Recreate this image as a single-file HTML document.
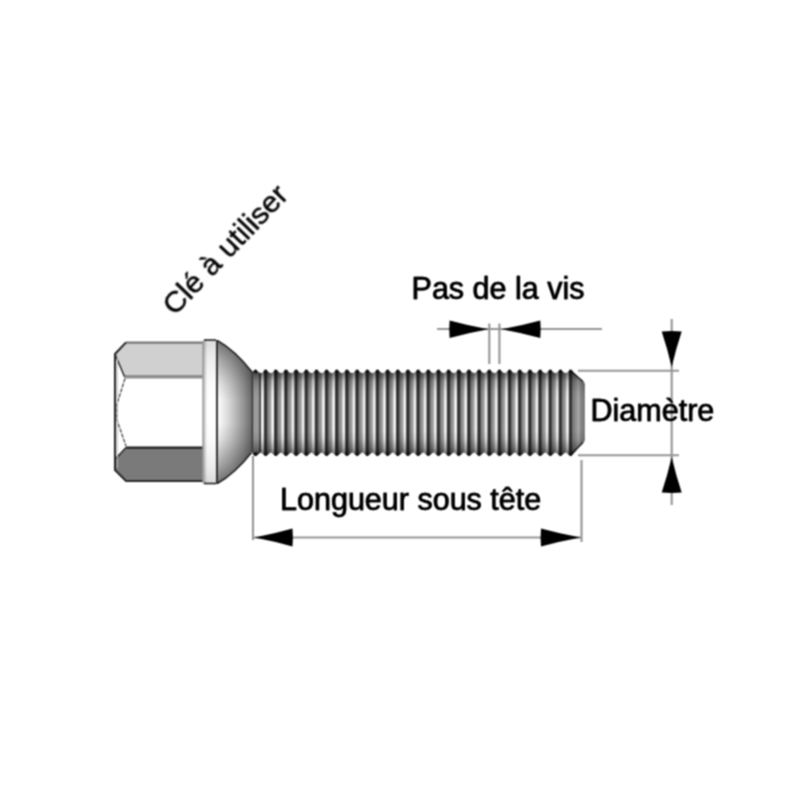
<!DOCTYPE html>
<html><head><meta charset="utf-8"><style>
html,body{margin:0;padding:0;background:#fff;}
svg{display:block;will-change:transform;}
text{font-family:"Liberation Sans",sans-serif;font-size:30.5px;fill:#000;stroke:#000;stroke-width:0.3px;}
</style></head><body>
<svg width="800" height="800" viewBox="0 0 800 800">
<defs>
  <filter id="gb" x="0" y="0" width="800" height="800" filterUnits="userSpaceOnUse" color-interpolation-filters="sRGB"><feConvolveMatrix order="3" kernelMatrix="1 2 1 2 4 2 1 2 1" divisor="16" edgeMode="duplicate" preserveAlpha="false"/></filter>
  <filter id="lb" x="0" y="0" width="800" height="800" filterUnits="userSpaceOnUse" color-interpolation-filters="sRGB"><feConvolveMatrix order="3" kernelMatrix="1 2 1 2 4 2 1 2 1" divisor="16" edgeMode="none"/></filter>
  <linearGradient id="vshade" gradientUnits="userSpaceOnUse" x1="0" y1="370" x2="0" y2="456">
    <stop offset="0" stop-color="#000" stop-opacity="0.6"/>
    <stop offset="0.06" stop-color="#000" stop-opacity="0.45"/>
    <stop offset="0.13" stop-color="#000" stop-opacity="0.2"/>
    <stop offset="0.25" stop-color="#000" stop-opacity="0.05"/>
    <stop offset="0.35" stop-color="#000" stop-opacity="0"/>
    <stop offset="0.7" stop-color="#000" stop-opacity="0"/>
    <stop offset="0.8" stop-color="#000" stop-opacity="0.08"/>
    <stop offset="0.9" stop-color="#000" stop-opacity="0.3"/>
    <stop offset="1" stop-color="#000" stop-opacity="0.6"/>
  </linearGradient>
  <linearGradient id="vshadeH" gradientUnits="userSpaceOnUse" x1="0" y1="339" x2="0" y2="485">
    <stop offset="0" stop-color="#000" stop-opacity="0.5"/>
    <stop offset="0.12" stop-color="#000" stop-opacity="0.25"/>
    <stop offset="0.3" stop-color="#000" stop-opacity="0.05"/>
    <stop offset="0.45" stop-color="#000" stop-opacity="0"/>
    <stop offset="0.55" stop-color="#000" stop-opacity="0"/>
    <stop offset="0.7" stop-color="#000" stop-opacity="0.05"/>
    <stop offset="0.88" stop-color="#000" stop-opacity="0.25"/>
    <stop offset="1" stop-color="#000" stop-opacity="0.5"/>
  </linearGradient>
  <linearGradient id="stripe" x1="0" y1="0" x2="1" y2="0">
    <stop offset="0" stop-color="#2c2c2c"/>
    <stop offset="0.06" stop-color="#2c2c2c"/>
    <stop offset="0.13" stop-color="#5a5a5a"/>
    <stop offset="0.24" stop-color="#858585"/>
    <stop offset="0.42" stop-color="#9c9c9c"/>
    <stop offset="0.54" stop-color="#ababab"/>
    <stop offset="0.61" stop-color="#f0f0f0"/>
    <stop offset="0.64" stop-color="#ffffff"/>
    <stop offset="0.76" stop-color="#ffffff"/>
    <stop offset="0.83" stop-color="#707070"/>
    <stop offset="0.9" stop-color="#2c2c2c"/>
    <stop offset="1" stop-color="#2c2c2c"/>
  </linearGradient>
  <pattern id="thread" patternUnits="userSpaceOnUse" x="255.5" y="0" width="10.165" height="800">
    <rect x="0" y="0" width="10.165" height="800" fill="url(#stripe)"/>
  </pattern>
  <linearGradient id="coneH" gradientUnits="userSpaceOnUse" x1="217" y1="0" x2="254" y2="0">
    <stop offset="0" stop-color="#ffffff"/>
    <stop offset="0.1" stop-color="#f4f4f4"/>
    <stop offset="0.35" stop-color="#d2d2d2"/>
    <stop offset="0.7" stop-color="#989898"/>
    <stop offset="1" stop-color="#5e5e5e"/>
  </linearGradient>
  <linearGradient id="coneV" gradientUnits="userSpaceOnUse" x1="0" y1="340" x2="0" y2="484">
    <stop offset="0" stop-color="#000" stop-opacity="0.55"/>
    <stop offset="0.14" stop-color="#000" stop-opacity="0.32"/>
    <stop offset="0.3" stop-color="#000" stop-opacity="0.1"/>
    <stop offset="0.42" stop-color="#000" stop-opacity="0"/>
    <stop offset="0.58" stop-color="#000" stop-opacity="0"/>
    <stop offset="0.7" stop-color="#000" stop-opacity="0.1"/>
    <stop offset="0.86" stop-color="#000" stop-opacity="0.32"/>
    <stop offset="1" stop-color="#000" stop-opacity="0.55"/>
  </linearGradient>
  <linearGradient id="flangeH" gradientUnits="userSpaceOnUse" x1="202" y1="0" x2="218" y2="0">
    <stop offset="0" stop-color="#8c8c8c"/>
    <stop offset="0.18" stop-color="#d4d4d4"/>
    <stop offset="0.32" stop-color="#fff"/>
    <stop offset="0.8" stop-color="#fff"/>
    <stop offset="1" stop-color="#d8d8d8"/>
  </linearGradient>
  <linearGradient id="endH" gradientUnits="userSpaceOnUse" x1="570" y1="0" x2="585" y2="0">
    <stop offset="0" stop-color="#444"/>
    <stop offset="0.087" stop-color="#2e2e2e"/>
    <stop offset="0.17" stop-color="#777"/>
    <stop offset="0.33" stop-color="#888"/>
    <stop offset="0.57" stop-color="#a8a8a8"/>
    <stop offset="0.73" stop-color="#858585"/>
    <stop offset="0.93" stop-color="#777"/>
    <stop offset="1" stop-color="#888"/>
  </linearGradient>
</defs>
<g filter="url(#gb)">

<!-- HEX HEAD -->
<path d="M126,342 L115,354 L115,470 L126,481 L203,481 L203,342 Z" fill="#fff"/>
<path d="M126,342 L203,342 L203,376.8 L124.5,376.8 L115,354 Z" fill="#d0d0d0"/>
<path d="M126,447.5 L203,447.5 L203,481 L126,481 L115,470 L115,458 Z" fill="#7a7a7a"/>
<path d="M126,342.6 L203,342.6" stroke="#777" stroke-width="2.4"/>
<path d="M126,342.4 L115,354 L115,470 L126,481 L203,481" fill="none" stroke="#2a2a2a" stroke-width="2.1"/>
<path d="M124.5,376.8 L203,376.8" stroke="#8e8e8e" stroke-width="3.4"/>
<path d="M126,447.7 L203,447.7" stroke="#1e1e1e" stroke-width="2.2"/>
<path d="M115,354 L124.5,376.8" stroke="#2a2a2a" stroke-width="1.5" fill="none"/>
<path d="M125,378.5 L117,404 L117,420 L126,446" stroke="#3a3a3a" stroke-width="1.2" fill="none" stroke-dasharray="4,1.2"/>
<path d="M126,447.5 L115.5,459" stroke="#2a2a2a" stroke-width="1.5" fill="none"/>
<path d="M117.3,356 L117.3,468" stroke="#bbb" stroke-width="1" fill="none"/>

<!-- FLANGE -->
<rect x="202.5" y="340" width="15" height="144" rx="2" fill="url(#flangeH)"/>
<rect x="202.5" y="340" width="15" height="144" rx="2" fill="url(#vshadeH)" opacity="0.3"/>
<path d="M204,340 L216,340" stroke="#222" stroke-width="1.6"/>
<path d="M204,483.5 L216,483.5" stroke="#222" stroke-width="1.6"/>

<!-- CONE -->
<path d="M217.3,340.5 Q234.4,349.9 252.5,372.5 L252.5,451.5 Q234.4,474.1 217.3,483.5 Z" fill="url(#coneH)"/>
<path d="M217.3,340.5 Q234.4,349.9 252.5,372.5 L252.5,451.5 Q234.4,474.1 217.3,483.5 Z" fill="url(#coneV)"/>
<path d="M217.3,340.5 Q234.4,349.9 252.5,372.5" fill="none" stroke="#222" stroke-width="1.5"/>
<path d="M217.3,483.5 Q234.4,474.1 252.5,451.5" fill="none" stroke="#222" stroke-width="1.5"/>

<path d="M217,340 L217,484" stroke="#262626" stroke-width="1.8"/>
<path d="M203,342 L203,482" stroke="#a0a0a0" stroke-width="1"/>
<!-- THREAD -->
<path d="M253.0,373.50 L253.30,371.70 Q255.50,368.90 257.70,371.70 L260.58,373.30 L263.47,371.70 Q265.67,368.90 267.87,371.70 L270.75,373.30 L273.63,371.70 Q275.83,368.90 278.03,371.70 L280.91,373.30 L283.80,371.70 Q286.00,368.90 288.19,371.70 L291.08,373.30 L293.96,371.70 Q296.16,368.90 298.36,371.70 L301.24,373.30 L304.12,371.70 Q306.32,368.90 308.52,371.70 L311.41,373.30 L314.29,371.70 Q316.49,368.90 318.69,371.70 L321.57,373.30 L324.45,371.70 Q326.65,368.90 328.85,371.70 L331.74,373.30 L334.62,371.70 Q336.82,368.90 339.02,371.70 L341.90,373.30 L344.79,371.70 Q346.99,368.90 349.19,371.70 L352.07,373.30 L354.95,371.70 Q357.15,368.90 359.35,371.70 L362.23,373.30 L365.12,371.70 Q367.31,368.90 369.51,371.70 L372.40,373.30 L375.28,371.70 Q377.48,368.90 379.68,371.70 L382.56,373.30 L385.44,371.70 Q387.64,368.90 389.84,371.70 L392.73,373.30 L395.61,371.70 Q397.81,368.90 400.01,371.70 L402.89,373.30 L405.78,371.70 Q407.98,368.90 410.18,371.70 L413.06,373.30 L415.94,371.70 Q418.14,368.90 420.34,371.70 L423.22,373.30 L426.10,371.70 Q428.30,368.90 430.50,371.70 L433.39,373.30 L436.27,371.70 Q438.47,368.90 440.67,371.70 L443.55,373.30 L446.44,371.70 Q448.63,368.90 450.83,371.70 L453.72,373.30 L456.60,371.70 Q458.80,368.90 461.00,371.70 L463.88,373.30 L466.76,371.70 Q468.96,368.90 471.16,371.70 L474.05,373.30 L476.93,371.70 Q479.13,368.90 481.33,371.70 L484.21,373.30 L487.09,371.70 Q489.29,368.90 491.49,371.70 L494.38,373.30 L497.26,371.70 Q499.46,368.90 501.66,371.70 L504.54,373.30 L507.43,371.70 Q509.62,368.90 511.82,371.70 L514.71,373.30 L517.59,371.70 Q519.79,368.90 521.99,371.70 L524.87,373.30 L527.75,371.70 Q529.95,368.90 532.15,371.70 L535.04,373.30 L537.92,371.70 Q540.12,368.90 542.32,371.70 L545.20,373.30 L548.08,371.70 Q550.28,368.90 552.49,371.70 L555.37,373.30 L558.25,371.70 Q560.45,368.90 562.65,371.70 L565.53,373.30 L568.41,371.70 Q570.62,368.90 572.82,371.70 L583.40,381.8 L584.8,383.5 L584.8,440.5 L583.40,442.2 L571.82,455.40 Q570.62,456.60 569.41,455.40 L565.53,452.20 L561.65,455.40 Q560.45,456.60 559.25,455.40 L555.37,452.20 L551.49,455.40 Q550.28,456.60 549.08,455.40 L545.20,452.20 L541.32,455.40 Q540.12,456.60 538.92,455.40 L535.04,452.20 L531.16,455.40 Q529.95,456.60 528.75,455.40 L524.87,452.20 L520.99,455.40 Q519.79,456.60 518.59,455.40 L514.71,452.20 L510.82,455.40 Q509.62,456.60 508.43,455.40 L504.54,452.20 L500.66,455.40 Q499.46,456.60 498.26,455.40 L494.38,452.20 L490.49,455.40 Q489.29,456.60 488.09,455.40 L484.21,452.20 L480.33,455.40 Q479.13,456.60 477.93,455.40 L474.05,452.20 L470.16,455.40 Q468.96,456.60 467.76,455.40 L463.88,452.20 L460.00,455.40 Q458.80,456.60 457.60,455.40 L453.72,452.20 L449.83,455.40 Q448.63,456.60 447.44,455.40 L443.55,452.20 L439.67,455.40 Q438.47,456.60 437.27,455.40 L433.39,452.20 L429.50,455.40 Q428.30,456.60 427.10,455.40 L423.22,452.20 L419.34,455.40 Q418.14,456.60 416.94,455.40 L413.06,452.20 L409.17,455.40 Q407.98,456.60 406.78,455.40 L402.89,452.20 L399.01,455.40 Q397.81,456.60 396.61,455.40 L392.73,452.20 L388.84,455.40 Q387.64,456.60 386.44,455.40 L382.56,452.20 L378.68,455.40 Q377.48,456.60 376.28,455.40 L372.40,452.20 L368.51,455.40 Q367.31,456.60 366.12,455.40 L362.23,452.20 L358.35,455.40 Q357.15,456.60 355.95,455.40 L352.07,452.20 L348.18,455.40 Q346.99,456.60 345.79,455.40 L341.90,452.20 L338.02,455.40 Q336.82,456.60 335.62,455.40 L331.74,452.20 L327.85,455.40 Q326.65,456.60 325.45,455.40 L321.57,452.20 L317.69,455.40 Q316.49,456.60 315.29,455.40 L311.41,452.20 L307.52,455.40 Q306.32,456.60 305.12,455.40 L301.24,452.20 L297.36,455.40 Q296.16,456.60 294.96,455.40 L291.08,452.20 L287.19,455.40 Q286.00,456.60 284.80,455.40 L280.91,452.20 L277.03,455.40 Q275.83,456.60 274.63,455.40 L270.75,452.20 L266.86,455.40 Q265.67,456.60 264.47,455.40 L260.58,452.20 L256.70,455.40 Q255.50,456.60 254.30,455.40 L250.42,452.20 L253.0,452.2 Z" fill="url(#thread)"/>
<path d="M570.6,368 L585,368 L585,458 L570.6,458 Z" fill="url(#endH)" clip-path="url(#thrclip)"/>
<path d="M570.6,370.8 L583.2,381.8" stroke="#222" stroke-width="1.3" fill="none"/>
<path d="M570.6,455 L583.2,442.2" stroke="#222" stroke-width="1.3" fill="none"/>
<clipPath id="thrclip"><path d="M253.0,373.50 L253.30,371.70 Q255.50,368.90 257.70,371.70 L260.58,373.30 L263.47,371.70 Q265.67,368.90 267.87,371.70 L270.75,373.30 L273.63,371.70 Q275.83,368.90 278.03,371.70 L280.91,373.30 L283.80,371.70 Q286.00,368.90 288.19,371.70 L291.08,373.30 L293.96,371.70 Q296.16,368.90 298.36,371.70 L301.24,373.30 L304.12,371.70 Q306.32,368.90 308.52,371.70 L311.41,373.30 L314.29,371.70 Q316.49,368.90 318.69,371.70 L321.57,373.30 L324.45,371.70 Q326.65,368.90 328.85,371.70 L331.74,373.30 L334.62,371.70 Q336.82,368.90 339.02,371.70 L341.90,373.30 L344.79,371.70 Q346.99,368.90 349.19,371.70 L352.07,373.30 L354.95,371.70 Q357.15,368.90 359.35,371.70 L362.23,373.30 L365.12,371.70 Q367.31,368.90 369.51,371.70 L372.40,373.30 L375.28,371.70 Q377.48,368.90 379.68,371.70 L382.56,373.30 L385.44,371.70 Q387.64,368.90 389.84,371.70 L392.73,373.30 L395.61,371.70 Q397.81,368.90 400.01,371.70 L402.89,373.30 L405.78,371.70 Q407.98,368.90 410.18,371.70 L413.06,373.30 L415.94,371.70 Q418.14,368.90 420.34,371.70 L423.22,373.30 L426.10,371.70 Q428.30,368.90 430.50,371.70 L433.39,373.30 L436.27,371.70 Q438.47,368.90 440.67,371.70 L443.55,373.30 L446.44,371.70 Q448.63,368.90 450.83,371.70 L453.72,373.30 L456.60,371.70 Q458.80,368.90 461.00,371.70 L463.88,373.30 L466.76,371.70 Q468.96,368.90 471.16,371.70 L474.05,373.30 L476.93,371.70 Q479.13,368.90 481.33,371.70 L484.21,373.30 L487.09,371.70 Q489.29,368.90 491.49,371.70 L494.38,373.30 L497.26,371.70 Q499.46,368.90 501.66,371.70 L504.54,373.30 L507.43,371.70 Q509.62,368.90 511.82,371.70 L514.71,373.30 L517.59,371.70 Q519.79,368.90 521.99,371.70 L524.87,373.30 L527.75,371.70 Q529.95,368.90 532.15,371.70 L535.04,373.30 L537.92,371.70 Q540.12,368.90 542.32,371.70 L545.20,373.30 L548.08,371.70 Q550.28,368.90 552.49,371.70 L555.37,373.30 L558.25,371.70 Q560.45,368.90 562.65,371.70 L565.53,373.30 L568.41,371.70 Q570.62,368.90 572.82,371.70 L583.40,381.8 L584.8,383.5 L584.8,440.5 L583.40,442.2 L571.82,455.40 Q570.62,456.60 569.41,455.40 L565.53,452.20 L561.65,455.40 Q560.45,456.60 559.25,455.40 L555.37,452.20 L551.49,455.40 Q550.28,456.60 549.08,455.40 L545.20,452.20 L541.32,455.40 Q540.12,456.60 538.92,455.40 L535.04,452.20 L531.16,455.40 Q529.95,456.60 528.75,455.40 L524.87,452.20 L520.99,455.40 Q519.79,456.60 518.59,455.40 L514.71,452.20 L510.82,455.40 Q509.62,456.60 508.43,455.40 L504.54,452.20 L500.66,455.40 Q499.46,456.60 498.26,455.40 L494.38,452.20 L490.49,455.40 Q489.29,456.60 488.09,455.40 L484.21,452.20 L480.33,455.40 Q479.13,456.60 477.93,455.40 L474.05,452.20 L470.16,455.40 Q468.96,456.60 467.76,455.40 L463.88,452.20 L460.00,455.40 Q458.80,456.60 457.60,455.40 L453.72,452.20 L449.83,455.40 Q448.63,456.60 447.44,455.40 L443.55,452.20 L439.67,455.40 Q438.47,456.60 437.27,455.40 L433.39,452.20 L429.50,455.40 Q428.30,456.60 427.10,455.40 L423.22,452.20 L419.34,455.40 Q418.14,456.60 416.94,455.40 L413.06,452.20 L409.17,455.40 Q407.98,456.60 406.78,455.40 L402.89,452.20 L399.01,455.40 Q397.81,456.60 396.61,455.40 L392.73,452.20 L388.84,455.40 Q387.64,456.60 386.44,455.40 L382.56,452.20 L378.68,455.40 Q377.48,456.60 376.28,455.40 L372.40,452.20 L368.51,455.40 Q367.31,456.60 366.12,455.40 L362.23,452.20 L358.35,455.40 Q357.15,456.60 355.95,455.40 L352.07,452.20 L348.18,455.40 Q346.99,456.60 345.79,455.40 L341.90,452.20 L338.02,455.40 Q336.82,456.60 335.62,455.40 L331.74,452.20 L327.85,455.40 Q326.65,456.60 325.45,455.40 L321.57,452.20 L317.69,455.40 Q316.49,456.60 315.29,455.40 L311.41,452.20 L307.52,455.40 Q306.32,456.60 305.12,455.40 L301.24,452.20 L297.36,455.40 Q296.16,456.60 294.96,455.40 L291.08,452.20 L287.19,455.40 Q286.00,456.60 284.80,455.40 L280.91,452.20 L277.03,455.40 Q275.83,456.60 274.63,455.40 L270.75,452.20 L266.86,455.40 Q265.67,456.60 264.47,455.40 L260.58,452.20 L256.70,455.40 Q255.50,456.60 254.30,455.40 L250.42,452.20 L253.0,452.2 Z"/></clipPath>
<path d="M253.0,373.50 L253.30,371.70 Q255.50,368.90 257.70,371.70 L260.58,373.30 L263.47,371.70 Q265.67,368.90 267.87,371.70 L270.75,373.30 L273.63,371.70 Q275.83,368.90 278.03,371.70 L280.91,373.30 L283.80,371.70 Q286.00,368.90 288.19,371.70 L291.08,373.30 L293.96,371.70 Q296.16,368.90 298.36,371.70 L301.24,373.30 L304.12,371.70 Q306.32,368.90 308.52,371.70 L311.41,373.30 L314.29,371.70 Q316.49,368.90 318.69,371.70 L321.57,373.30 L324.45,371.70 Q326.65,368.90 328.85,371.70 L331.74,373.30 L334.62,371.70 Q336.82,368.90 339.02,371.70 L341.90,373.30 L344.79,371.70 Q346.99,368.90 349.19,371.70 L352.07,373.30 L354.95,371.70 Q357.15,368.90 359.35,371.70 L362.23,373.30 L365.12,371.70 Q367.31,368.90 369.51,371.70 L372.40,373.30 L375.28,371.70 Q377.48,368.90 379.68,371.70 L382.56,373.30 L385.44,371.70 Q387.64,368.90 389.84,371.70 L392.73,373.30 L395.61,371.70 Q397.81,368.90 400.01,371.70 L402.89,373.30 L405.78,371.70 Q407.98,368.90 410.18,371.70 L413.06,373.30 L415.94,371.70 Q418.14,368.90 420.34,371.70 L423.22,373.30 L426.10,371.70 Q428.30,368.90 430.50,371.70 L433.39,373.30 L436.27,371.70 Q438.47,368.90 440.67,371.70 L443.55,373.30 L446.44,371.70 Q448.63,368.90 450.83,371.70 L453.72,373.30 L456.60,371.70 Q458.80,368.90 461.00,371.70 L463.88,373.30 L466.76,371.70 Q468.96,368.90 471.16,371.70 L474.05,373.30 L476.93,371.70 Q479.13,368.90 481.33,371.70 L484.21,373.30 L487.09,371.70 Q489.29,368.90 491.49,371.70 L494.38,373.30 L497.26,371.70 Q499.46,368.90 501.66,371.70 L504.54,373.30 L507.43,371.70 Q509.62,368.90 511.82,371.70 L514.71,373.30 L517.59,371.70 Q519.79,368.90 521.99,371.70 L524.87,373.30 L527.75,371.70 Q529.95,368.90 532.15,371.70 L535.04,373.30 L537.92,371.70 Q540.12,368.90 542.32,371.70 L545.20,373.30 L548.08,371.70 Q550.28,368.90 552.49,371.70 L555.37,373.30 L558.25,371.70 Q560.45,368.90 562.65,371.70 L565.53,373.30 L568.41,371.70 Q570.62,368.90 572.82,371.70 L583.40,381.8 L584.8,383.5 L584.8,440.5 L583.40,442.2 L571.82,455.40 Q570.62,456.60 569.41,455.40 L565.53,452.20 L561.65,455.40 Q560.45,456.60 559.25,455.40 L555.37,452.20 L551.49,455.40 Q550.28,456.60 549.08,455.40 L545.20,452.20 L541.32,455.40 Q540.12,456.60 538.92,455.40 L535.04,452.20 L531.16,455.40 Q529.95,456.60 528.75,455.40 L524.87,452.20 L520.99,455.40 Q519.79,456.60 518.59,455.40 L514.71,452.20 L510.82,455.40 Q509.62,456.60 508.43,455.40 L504.54,452.20 L500.66,455.40 Q499.46,456.60 498.26,455.40 L494.38,452.20 L490.49,455.40 Q489.29,456.60 488.09,455.40 L484.21,452.20 L480.33,455.40 Q479.13,456.60 477.93,455.40 L474.05,452.20 L470.16,455.40 Q468.96,456.60 467.76,455.40 L463.88,452.20 L460.00,455.40 Q458.80,456.60 457.60,455.40 L453.72,452.20 L449.83,455.40 Q448.63,456.60 447.44,455.40 L443.55,452.20 L439.67,455.40 Q438.47,456.60 437.27,455.40 L433.39,452.20 L429.50,455.40 Q428.30,456.60 427.10,455.40 L423.22,452.20 L419.34,455.40 Q418.14,456.60 416.94,455.40 L413.06,452.20 L409.17,455.40 Q407.98,456.60 406.78,455.40 L402.89,452.20 L399.01,455.40 Q397.81,456.60 396.61,455.40 L392.73,452.20 L388.84,455.40 Q387.64,456.60 386.44,455.40 L382.56,452.20 L378.68,455.40 Q377.48,456.60 376.28,455.40 L372.40,452.20 L368.51,455.40 Q367.31,456.60 366.12,455.40 L362.23,452.20 L358.35,455.40 Q357.15,456.60 355.95,455.40 L352.07,452.20 L348.18,455.40 Q346.99,456.60 345.79,455.40 L341.90,452.20 L338.02,455.40 Q336.82,456.60 335.62,455.40 L331.74,452.20 L327.85,455.40 Q326.65,456.60 325.45,455.40 L321.57,452.20 L317.69,455.40 Q316.49,456.60 315.29,455.40 L311.41,452.20 L307.52,455.40 Q306.32,456.60 305.12,455.40 L301.24,452.20 L297.36,455.40 Q296.16,456.60 294.96,455.40 L291.08,452.20 L287.19,455.40 Q286.00,456.60 284.80,455.40 L280.91,452.20 L277.03,455.40 Q275.83,456.60 274.63,455.40 L270.75,452.20 L266.86,455.40 Q265.67,456.60 264.47,455.40 L260.58,452.20 L256.70,455.40 Q255.50,456.60 254.30,455.40 L250.42,452.20 L253.0,452.2 Z" fill="url(#vshade)"/>
<rect x="253.3" y="372.5" width="5.9" height="80" fill="#9a9a9a" clip-path="url(#thrclip)"/>
<rect x="259.2" y="372.5" width="1.6" height="80" fill="#444" clip-path="url(#thrclip)"/>
<rect x="253.3" y="370" width="7.5" height="86" fill="url(#vshade)" clip-path="url(#thrclip)"/>
<circle cx='255.50' cy='371.40' r='1.9' fill='#111'/>
<circle cx='265.67' cy='371.40' r='1.9' fill='#111'/>
<circle cx='275.83' cy='371.40' r='1.9' fill='#111'/>
<circle cx='286.00' cy='371.40' r='1.9' fill='#111'/>
<circle cx='296.16' cy='371.40' r='1.9' fill='#111'/>
<circle cx='306.32' cy='371.40' r='1.9' fill='#111'/>
<circle cx='316.49' cy='371.40' r='1.9' fill='#111'/>
<circle cx='326.65' cy='371.40' r='1.9' fill='#111'/>
<circle cx='336.82' cy='371.40' r='1.9' fill='#111'/>
<circle cx='346.99' cy='371.40' r='1.9' fill='#111'/>
<circle cx='357.15' cy='371.40' r='1.9' fill='#111'/>
<circle cx='367.31' cy='371.40' r='1.9' fill='#111'/>
<circle cx='377.48' cy='371.40' r='1.9' fill='#111'/>
<circle cx='387.64' cy='371.40' r='1.9' fill='#111'/>
<circle cx='397.81' cy='371.40' r='1.9' fill='#111'/>
<circle cx='407.98' cy='371.40' r='1.9' fill='#111'/>
<circle cx='418.14' cy='371.40' r='1.9' fill='#111'/>
<circle cx='428.30' cy='371.40' r='1.9' fill='#111'/>
<circle cx='438.47' cy='371.40' r='1.9' fill='#111'/>
<circle cx='448.63' cy='371.40' r='1.9' fill='#111'/>
<circle cx='458.80' cy='371.40' r='1.9' fill='#111'/>
<circle cx='468.96' cy='371.40' r='1.9' fill='#111'/>
<circle cx='479.13' cy='371.40' r='1.9' fill='#111'/>
<circle cx='489.29' cy='371.40' r='1.9' fill='#111'/>
<circle cx='499.46' cy='371.40' r='1.9' fill='#111'/>
<circle cx='509.62' cy='371.40' r='1.9' fill='#111'/>
<circle cx='519.79' cy='371.40' r='1.9' fill='#111'/>
<circle cx='529.95' cy='371.40' r='1.9' fill='#111'/>
<circle cx='540.12' cy='371.40' r='1.9' fill='#111'/>
<circle cx='550.28' cy='371.40' r='1.9' fill='#111'/>
<circle cx='560.45' cy='371.40' r='1.9' fill='#111'/>
<circle cx='570.62' cy='371.40' r='1.9' fill='#111'/>
<path d='M253.30,452.70 L255.50,456.00 L257.70,452.70 Z' fill='#111'/>
<path d='M263.47,452.70 L265.67,456.00 L267.87,452.70 Z' fill='#111'/>
<path d='M273.63,452.70 L275.83,456.00 L278.03,452.70 Z' fill='#111'/>
<path d='M283.80,452.70 L286.00,456.00 L288.19,452.70 Z' fill='#111'/>
<path d='M293.96,452.70 L296.16,456.00 L298.36,452.70 Z' fill='#111'/>
<path d='M304.12,452.70 L306.32,456.00 L308.52,452.70 Z' fill='#111'/>
<path d='M314.29,452.70 L316.49,456.00 L318.69,452.70 Z' fill='#111'/>
<path d='M324.45,452.70 L326.65,456.00 L328.85,452.70 Z' fill='#111'/>
<path d='M334.62,452.70 L336.82,456.00 L339.02,452.70 Z' fill='#111'/>
<path d='M344.79,452.70 L346.99,456.00 L349.19,452.70 Z' fill='#111'/>
<path d='M354.95,452.70 L357.15,456.00 L359.35,452.70 Z' fill='#111'/>
<path d='M365.12,452.70 L367.31,456.00 L369.51,452.70 Z' fill='#111'/>
<path d='M375.28,452.70 L377.48,456.00 L379.68,452.70 Z' fill='#111'/>
<path d='M385.44,452.70 L387.64,456.00 L389.84,452.70 Z' fill='#111'/>
<path d='M395.61,452.70 L397.81,456.00 L400.01,452.70 Z' fill='#111'/>
<path d='M405.78,452.70 L407.98,456.00 L410.18,452.70 Z' fill='#111'/>
<path d='M415.94,452.70 L418.14,456.00 L420.34,452.70 Z' fill='#111'/>
<path d='M426.10,452.70 L428.30,456.00 L430.50,452.70 Z' fill='#111'/>
<path d='M436.27,452.70 L438.47,456.00 L440.67,452.70 Z' fill='#111'/>
<path d='M446.44,452.70 L448.63,456.00 L450.83,452.70 Z' fill='#111'/>
<path d='M456.60,452.70 L458.80,456.00 L461.00,452.70 Z' fill='#111'/>
<path d='M466.76,452.70 L468.96,456.00 L471.16,452.70 Z' fill='#111'/>
<path d='M476.93,452.70 L479.13,456.00 L481.33,452.70 Z' fill='#111'/>
<path d='M487.09,452.70 L489.29,456.00 L491.49,452.70 Z' fill='#111'/>
<path d='M497.26,452.70 L499.46,456.00 L501.66,452.70 Z' fill='#111'/>
<path d='M507.43,452.70 L509.62,456.00 L511.82,452.70 Z' fill='#111'/>
<path d='M517.59,452.70 L519.79,456.00 L521.99,452.70 Z' fill='#111'/>
<path d='M527.75,452.70 L529.95,456.00 L532.15,452.70 Z' fill='#111'/>
<path d='M537.92,452.70 L540.12,456.00 L542.32,452.70 Z' fill='#111'/>
<path d='M548.08,452.70 L550.28,456.00 L552.49,452.70 Z' fill='#111'/>
<path d='M558.25,452.70 L560.45,456.00 L562.65,452.70 Z' fill='#111'/>
<path d='M568.41,452.70 L570.62,456.00 L572.82,452.70 Z' fill='#111'/>
<path d="M252.5,372 L252.5,452" stroke="#333" stroke-width="1.3"/>

<!-- DIMENSION LINES -->
<g stroke="#959595" stroke-width="2.1" fill="none">
  <path d="M437,329 L602,329"/>
  <path d="M489.3,323.5 L489.3,364"/>
  <path d="M499.4,323.5 L499.4,364"/>
  <path d="M578,370.7 L679,370.7"/>
  <path d="M578,455.3 L679,455.3"/>
  <path d="M671.7,319 L671.7,505"/>
  <path d="M253,456 L253,540"/>
  <path d="M581.5,460 L581.5,542"/>
  <path d="M253,537.5 L581.5,537.5"/>
</g>
<!-- ARROWS -->
<g fill="#000">
<path d="M449.60,338.05 Q469.00,332.78 488.40,329.30 Q469.00,325.82 449.60,320.55 Q448.80,329.30 449.60,338.05 Z"/>
<path d="M540.30,320.55 Q520.90,325.82 501.50,329.30 Q520.90,332.78 540.30,338.05 Q541.10,329.30 540.30,320.55 Z"/>
<path d="M661.70,331.50 Q667.60,349.25 671.70,367.00 Q675.80,349.25 681.70,331.50 Q671.70,330.70 661.70,331.50 Z"/>
<path d="M681.70,492.50 Q675.80,474.75 671.70,457.00 Q667.60,474.75 661.70,492.50 Q671.70,493.30 681.70,492.50 Z"/>
<path d="M292.50,528.50 Q273.50,533.90 254.50,537.50 Q273.50,541.10 292.50,546.50 Q293.30,537.50 292.50,528.50 Z"/>
<path d="M541.00,546.50 Q560.75,541.10 580.50,537.50 Q560.75,533.90 541.00,528.50 Q540.20,537.50 541.00,546.50 Z"/>
</g>

<!-- TEXT -->
<g>
<text x="411.3" y="299.2">Pas de la vis</text>
<text x="590.3" y="420.9">Diamètre</text>
<text x="279.8" y="510">Longueur sous tête</text>
<text transform="translate(174.8,316.6) rotate(-46.3)" x="0" style="font-size:30.25px;stroke-width:0.45px">Clé à utiliser</text>
<text x="411.8" y="299.2">Pas de la vis</text>
<text x="590.8" y="420.9">Diamètre</text>
<text x="280.3" y="510">Longueur sous tête</text>
</g>
</g>
</svg>
</body></html>
